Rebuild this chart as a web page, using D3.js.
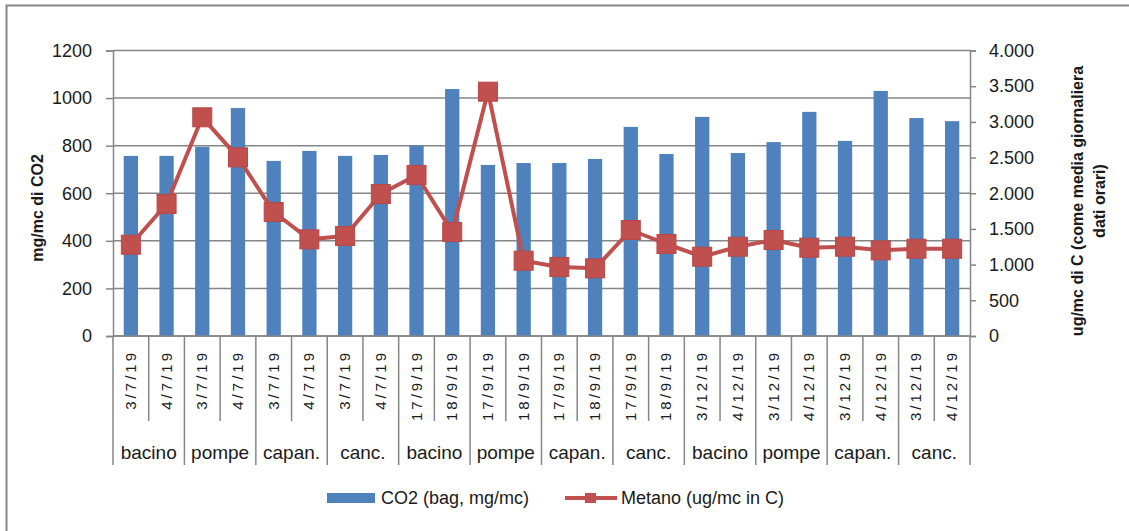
<!DOCTYPE html>
<html>
<head>
    <meta charset="utf-8">
    <title>CO2 e Metano</title>
    <script type="text/javascript" src="https://cdn.jsdelivr.net/npm/d3@7/dist/d3.min.js"></script>
    <style>
        body { margin: 0; background: white; }
        text { font-family: "Liberation Sans", Arial, sans-serif; fill: #1a1a1a; }
    </style>
</head>
<body>
    <script type="text/javascript">
        // categories (two level x axis)
        var dates = ['3/7/19', '4/7/19', '3/7/19', '4/7/19', '3/7/19', '4/7/19', '3/7/19', '4/7/19',
                     '17/9/19', '18/9/19', '17/9/19', '18/9/19', '17/9/19', '18/9/19', '17/9/19', '18/9/19',
                     '3/12/19', '4/12/19', '3/12/19', '4/12/19', '3/12/19', '4/12/19', '3/12/19', '4/12/19'];
        var groups = ['bacino', 'pompe', 'capan.', 'canc.', 'bacino', 'pompe', 'capan.', 'canc.',
                      'bacino', 'pompe', 'capan.', 'canc.'];
        // series
        var co2 = [757, 757, 795, 958, 736, 778, 757, 761, 800, 1038, 719, 727,
                   727, 744, 879, 765, 921, 769, 815, 942, 820, 1030, 916, 903];
        var metano = [1279, 1849, 3064, 2503, 1737, 1354, 1401, 1989, 2256, 1457, 3423, 1055,
                      967, 948, 1485, 1289, 1111, 1251, 1345, 1237, 1251, 1200, 1223, 1223];
        var leftTicks = [0, 200, 400, 600, 800, 1000, 1200];
        var rightTicks = [0, 500, 1000, 1500, 2000, 2500, 3000, 3500, 4000];

        var width = 1129;
        var height = 531;
        var margin = {left: 113, right: 970, top: 50.5, bottom: 336};

        var svg = d3.select('body').append('svg')
                    .attr('width', width)
                    .attr('height', height);

        // outer frame of the chart area
        svg.append('rect')
            .attr('x', 6.5).attr('y', 5.5)
            .attr('width', 1300).attr('height', 700)
            .attr('fill', 'none')
            .attr('stroke', '#878787')
            .attr('stroke-width', 2);

        var x = d3.scaleBand()
                  .domain(d3.range(dates.length))
                  .range([margin.left, margin.right])
                  .padding(0);
        var yLeft = d3.scaleLinear().domain([0, 1200]).range([margin.bottom, margin.top]);
        var yRight = d3.scaleLinear().domain([0, 4000]).range([margin.bottom, margin.top]);

        var itLocale = d3.formatLocale({decimal: ',', thousands: '.', grouping: [3], currency: ['', '']});
        var fmtRight = itLocale.format(',');

        // gridlines
        svg.append('g').attr('class', 'grid')
            .selectAll('line')
            .data(leftTicks).enter()
            .append('line')
            .attr('x1', margin.left).attr('x2', margin.right)
            .attr('y1', function(d) { return yLeft(d); })
            .attr('y2', function(d) { return yLeft(d); })
            .attr('stroke', '#868686')
            .attr('stroke-width', 1.5);

        // left axis
        var leftAxis = svg.append('g')
            .attr('transform', 'translate(' + margin.left + ',0)')
            .call(d3.axisLeft(yLeft).tickValues(leftTicks).tickFormat(d3.format('d')).tickSize(7).tickPadding(14));
        leftAxis.selectAll('path, line').attr('stroke', '#868686').attr('stroke-width', 1.5);
        leftAxis.selectAll('text').style('font-size', '18px').style('font-family', '"Liberation Sans", Arial, sans-serif').attr('fill', '#1a1a1a');

        // right axis
        var rightAxis = svg.append('g')
            .attr('transform', 'translate(' + margin.right + ',0)')
            .call(d3.axisRight(yRight).tickValues(rightTicks).tickFormat(fmtRight).tickSize(6).tickPadding(13));
        rightAxis.selectAll('path, line').attr('stroke', '#868686').attr('stroke-width', 1.5);
        rightAxis.selectAll('text').style('font-size', '18px').style('font-family', '"Liberation Sans", Arial, sans-serif').attr('fill', '#1a1a1a');

        // bars
        var barW = x.bandwidth() * 0.4;
        svg.append('g').attr('class', 'bars')
            .selectAll('rect')
            .data(co2).enter()
            .append('rect')
            .attr('x', function(d, i) { return x(i) + (x.bandwidth() - barW) / 2; })
            .attr('y', function(d) { return yLeft(d); })
            .attr('width', barW)
            .attr('height', function(d) { return yLeft(0) - yLeft(d); })
            .attr('fill', '#4F81BD');

        // x axis baseline
        svg.append('line')
            .attr('x1', margin.left).attr('x2', margin.right)
            .attr('y1', margin.bottom).attr('y2', margin.bottom)
            .attr('stroke', '#868686').attr('stroke-width', 1.5);

        // category separators (short between dates, long between groups)
        var seps = d3.range(dates.length + 1);
        svg.append('g').attr('class', 'seps')
            .selectAll('line')
            .data(seps).enter()
            .append('line')
            .attr('x1', function(d) { return d < dates.length ? x(d) : margin.right; })
            .attr('x2', function(d) { return d < dates.length ? x(d) : margin.right; })
            .attr('y1', margin.bottom)
            .attr('y2', function(d) { return d % 2 === 0 ? 465 : 421; })
            .attr('stroke', '#868686')
            .attr('stroke-width', 1.5);

        // date labels
        svg.append('g').attr('class', 'dateLabels')
            .selectAll('text')
            .data(dates).enter()
            .append('text')
            .attr('transform', function(d, i) {
                return 'translate(' + (x(i) + x.bandwidth() / 2 + 5) + ',350) rotate(-90)';
            })
            .attr('text-anchor', 'end')
            .style('font-size', '15px')
            .style('letter-spacing', '3px')
            .text(function(d) { return d; });

        // group labels
        svg.append('g').attr('class', 'groupLabels')
            .selectAll('text')
            .data(groups).enter()
            .append('text')
            .attr('x', function(d, i) { return x(i * 2) + x.bandwidth(); })
            .attr('y', 459)
            .attr('text-anchor', 'middle')
            .style('font-size', '19px')
            .text(function(d) { return d; });

        // metano line
        var line = d3.line()
            .x(function(d, i) { return x(i) + x.bandwidth() / 2; })
            .y(function(d) { return yRight(d); });
        svg.append('path')
            .datum(metano)
            .attr('d', line)
            .attr('fill', 'none')
            .attr('stroke', '#C0504D')
            .attr('stroke-width', 4)
            .attr('stroke-linejoin', 'round');

        var mk = 19;
        svg.append('g').attr('class', 'markers')
            .selectAll('rect')
            .data(metano).enter()
            .append('rect')
            .attr('x', function(d, i) { return x(i) + x.bandwidth() / 2 - mk / 2; })
            .attr('y', function(d) { return yRight(d) - mk / 2; })
            .attr('width', mk).attr('height', mk)
            .attr('fill', '#C0504D')
            .attr('stroke', '#B9474A')
            .attr('stroke-width', 1);

        // axis titles
        svg.append('text')
            .attr('transform', 'translate(43,208) rotate(-90)')
            .attr('text-anchor', 'middle')
            .style('font-size', '16px')
            .style('font-weight', 'bold')
            .text('mg/mc di CO2');

        var rTitle = svg.append('text')
            .attr('transform', 'translate(1083,201) rotate(-90)')
            .attr('text-anchor', 'middle')
            .style('font-size', '16px')
            .style('font-weight', 'bold');
        rTitle.append('tspan').attr('x', 0).attr('dy', 0).text('ug/mc di C (come media giornaliera');
        rTitle.append('tspan').attr('x', 0).attr('dy', 22).text('dati orari)');

        // legend
        var legend = svg.append('g').attr('class', 'legend');
        legend.append('rect')
            .attr('x', 327).attr('y', 493)
            .attr('width', 48).attr('height', 10)
            .attr('fill', '#4F81BD');
        legend.append('text')
            .attr('x', 381).attr('y', 504)
            .style('font-size', '18px')
            .text('CO2 (bag, mg/mc)');
        legend.append('line')
            .attr('x1', 565).attr('x2', 617)
            .attr('y1', 498).attr('y2', 498)
            .attr('stroke', '#C0504D').attr('stroke-width', 4);
        legend.append('rect')
            .attr('x', 585).attr('y', 493)
            .attr('width', 11).attr('height', 10)
            .attr('fill', '#C0504D');
        legend.append('text')
            .attr('x', 621).attr('y', 504)
            .style('font-size', '18px')
            .text('Metano (ug/mc in C)');
    </script>
</body>
</html>
